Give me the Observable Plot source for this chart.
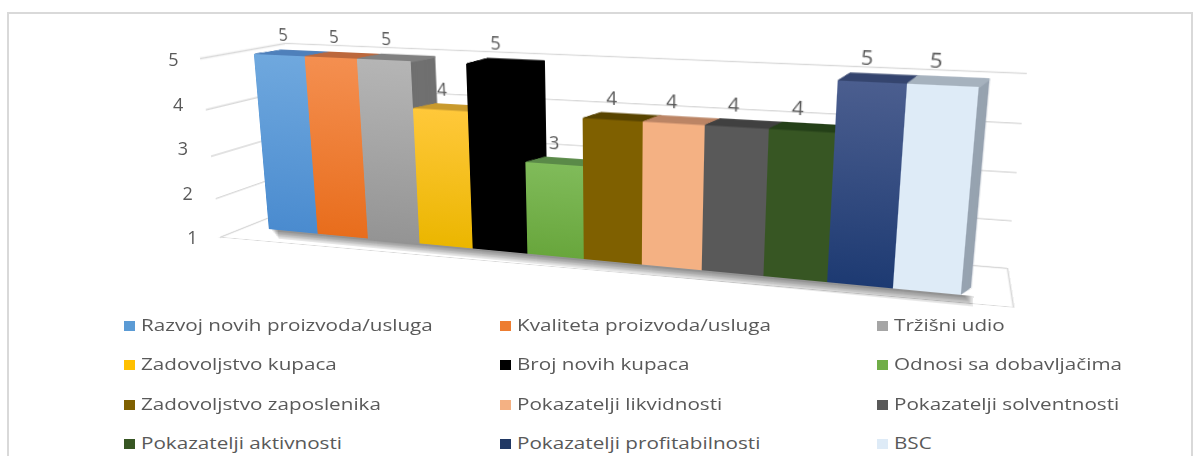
<!DOCTYPE html>
<html>
<head>
<meta charset="utf-8">
<script src="https://cdn.jsdelivr.net/npm/d3@7"></script>
<script src="https://cdn.jsdelivr.net/npm/@observablehq/plot@0.6"></script>
<style>
  html, body { margin: 0; padding: 0; background: #fff; }
  body { width: 1203px; height: 456px; position: relative; overflow: hidden; font-family: "Open Sans", Lato, sans-serif; }
  #frame { position: absolute; left: 7px; top: 12px; width: 1186px; height: 460px; border: 2px solid #d9d9d9; box-sizing: border-box; }
  .layer { position: absolute; left: 0; top: 0; overflow: visible; transform-origin: 0 0; }
  .leg { position: absolute; font-size: 17px; color: #595959; white-space: nowrap; line-height: 22px; transform: scaleX(1.215); transform-origin: 0 50%; }
  .sw { position: absolute; width: 11px; height: 10px; }
</style>
</head>
<body>
<div id="frame"></div>
<div id="stage"></div>
<div id="legend"></div>
<script>
// ---------------- data ----------------
const categories = [
  "Razvoj novih proizvoda/usluga",
  "Kvaliteta proizvoda/usluga",
  "Tržišni udio",
  "Zadovoljstvo kupaca",
  "Broj novih kupaca",
  "Odnosi sa dobavljačima",
  "Zadovoljstvo zaposlenika",
  "Pokazatelji likvidnosti",
  "Pokazatelji solventnosti",
  "Pokazatelji aktivnosti",
  "Pokazatelji profitabilnosti",
  "BSC"
];
const values = [5, 5, 5, 4, 5, 3, 4, 4, 4, 4, 5, 5];
const yTicks = [1, 2, 3, 4, 5];

// ---------------- styles ----------------
const colors      = ["#5b9bd5", "#ed7d31", "#a5a5a5", "#ffc000", "#000000", "#70ad47", "#7f6000", "#f4b183", "#595959", "#375623", "#203864", "#deebf7"];
const gradTop     = ["#6fa8de", "#f48f50", "#b5b5b5", "#ffc83a", "#000000", "#80bb5a", "#7f6000", "#f4b183", "#595959", "#375623", "#4b5e8f", "#deebf7"];
const gradBottom  = ["#4a8bcf", "#e86d1c", "#949494", "#ebb600", "#000000", "#68a63c", "#7f6000", "#f4b183", "#595959", "#375623", "#1d3a72", "#deebf7"];
const topColors   = ["#4f80bb", "#bd6a3e", "#808080", "#c99a2e", "#000000", "#5b8a48", "#5a4400", "#bb8566", "#404040", "#26401a", "#36466f", "#a6b2be"];
const sideColors  = ["#456f9f", "#a85a30", "#707070", "#b08620", "#000000", "#4e7a3c", "#4e3b00", "#a57358", "#383838", "#1f3514", "#2c3a5e", "#97a3b0"];
const textColor = "#595959";
const font = "'Open Sans', Lato, sans-serif";

const data = categories.map((name, i) => ({name, value: values[i], i}));

// ---------------- projective helper ----------------
function homography(src, dst) {
  const A = [], b = [];
  for (let k = 0; k < 4; k++) {
    const [x, y] = src[k], [u, v] = dst[k];
    A.push([x, y, 1, 0, 0, 0, -x * u, -y * u]); b.push(u);
    A.push([0, 0, 0, x, y, 1, -x * v, -y * v]); b.push(v);
  }
  const n = 8;
  for (let c = 0; c < n; c++) {
    let p = c;
    for (let r = c + 1; r < n; r++) if (Math.abs(A[r][c]) > Math.abs(A[p][c])) p = r;
    [A[c], A[p]] = [A[p], A[c]]; [b[c], b[p]] = [b[p], b[c]];
    for (let r = 0; r < n; r++) {
      if (r === c) continue;
      const f = A[r][c] / A[c][c];
      for (let k = c; k < n; k++) A[r][k] -= f * A[c][k];
      b[r] -= f * b[c];
    }
  }
  return b.map((v, k) => v / A[k][k]);
}
function place(svg, frame, quad) {
  const [x0, y0, x1, y1] = frame;
  const h = homography([[x0, y0], [x1, y0], [x0, y1], [x1, y1]], quad);
  const m = [h[0], h[3], 0, h[6], h[1], h[4], 0, h[7], 0, 0, 1, 0, h[2], h[5], 0, 1];
  svg.classList.add("layer");
  svg.style.transform = `matrix3d(${m.join(",")})`;
  document.getElementById("stage").appendChild(svg);
}
function planePlot(frame, marks) {
  const [x0, y0, x1, y1] = frame;
  return Plot.plot({
    width: 1203, height: 330,
    marginLeft: x0, marginRight: 1203 - x1, marginTop: y0, marginBottom: 330 - y1,
    style: {background: "transparent", overflow: "visible", fontFamily: font},
    x: {type: "band", domain: categories, range: [x0, x1], padding: 0, axis: null},
    y: {domain: [1, 5], range: [y1, y0], axis: null},
    marks
  });
}

// ---------------- walls & floor ----------------
const grid = {stroke: "#d9d9d9", strokeWidth: 1.6};
const leftFrame = [200, 58, 285, 237];
place(planePlot(leftFrame, [Plot.ruleY(yTicks, grid)]), leftFrame,
      [[200, 58], [285, 43], [220, 237], [290, 209]]);
const backFrame = [285, 43, 1027, 268];
place(planePlot(backFrame, [Plot.ruleY(yTicks, grid)]), backFrame,
      [[285, 43], [1027, 73], [290, 209], [1007, 268]]);
const floorFrame = [220, 209, 1013, 307];
place(planePlot(floorFrame, [Plot.frame(grid)]), floorFrame,
      [[290, 209], [1007, 268], [220, 237], [1013, 307]]);

// ---------------- bars (front plane) ----------------
const N = 22;
const depthX = i => (29 - 1.8 * i) / (0.92 + 0.018 * i);
const depthY = i => -5.4 - 0.18 * i;
const barMarks = [];
data.forEach(d => {
  const i = d.i;
  for (let s = N; s >= 1; s--) {
    const t = s / N;
    barMarks.push(Plot.barY([d], {x: "name", y1: 1, y2: "value", fill: sideColors[i], dx: t * depthX(i), dy: t * depthY(i)}));
  }
  for (let s = N; s >= 1; s--) {
    const t = s / N;
    barMarks.push(Plot.tickY([d], {x: "name", y: "value", stroke: topColors[i], strokeWidth: 1.8, dx: t * depthX(i), dy: t * depthY(i)}));
  }
});
// soft floor shadow
for (let k = 0; k < 6; k++) {
  barMarks.push(Plot.barY(data, {x: "name", y1: 1, y2: 1, insetBottom: -(2 + 1.6 * k), dx: 4 + 1.4 * k, fill: "#000", fillOpacity: 0.09}));
}
data.forEach(d => {
  barMarks.push(Plot.barY([d], {x: "name", y1: 1, y2: "value", fill: `url(#grad${d.i})`}));
});
data.forEach(d => {
  barMarks.push(Plot.text([d], {x: "name", y: "value", text: v => String(v.value), dy: -21, dx: 6 - 1.2 * d.i, fill: textColor, fontSize: 18.5, fontFamily: font}));
});

const frontFrame = [255, 72, 965, 262];
const front = planePlot(frontFrame, barMarks);
const defs = d3.select(front).insert("defs", ":first-child");
colors.forEach((c, i) => {
  const g = defs.append("linearGradient").attr("id", `grad${i}`).attr("x1", 0).attr("y1", 0).attr("x2", 0).attr("y2", 1);
  g.append("stop").attr("offset", "0%").attr("stop-color", gradTop[i]);
  g.append("stop").attr("offset", "100%").attr("stop-color", gradBottom[i]);
});
place(front, frontFrame, [[253, 54], [980, 87], [268, 229], [962, 295]]);

// ---------------- y tick labels (flat, along the left wall edge) ----------------
const ticks = Plot.plot({
  width: 1203, height: 330, margin: 0,
  style: {background: "transparent", overflow: "visible", fontFamily: font},
  x: {domain: [5, 1], range: [173, 192], axis: null},
  y: {domain: [5, 1], range: [60, 238], axis: null},
  marks: [Plot.text(yTicks, {x: d => d, y: d => d, text: d => String(d), fill: textColor, fontSize: 18, fontFamily: font})]
});
ticks.classList.add("layer");
document.getElementById("stage").appendChild(ticks);

// ---------------- legend ----------------
const colX = [124, 500, 877];
const rowY = [326, 365, 405, 444];
const legend = document.getElementById("legend");
categories.forEach((name, i) => {
  const col = i % 3, row = Math.floor(i / 3);
  const sw = document.createElement("div");
  sw.className = "sw";
  sw.style.left = colX[col] + "px";
  sw.style.top = (rowY[row] - 5) + "px";
  sw.style.background = colors[i];
  legend.appendChild(sw);
  const t = document.createElement("div");
  t.className = "leg";
  t.style.left = (colX[col] + 17) + "px";
  t.style.top = (rowY[row] - 12) + "px";
  t.textContent = name;
  legend.appendChild(t);
});
</script>
</body>
</html>
